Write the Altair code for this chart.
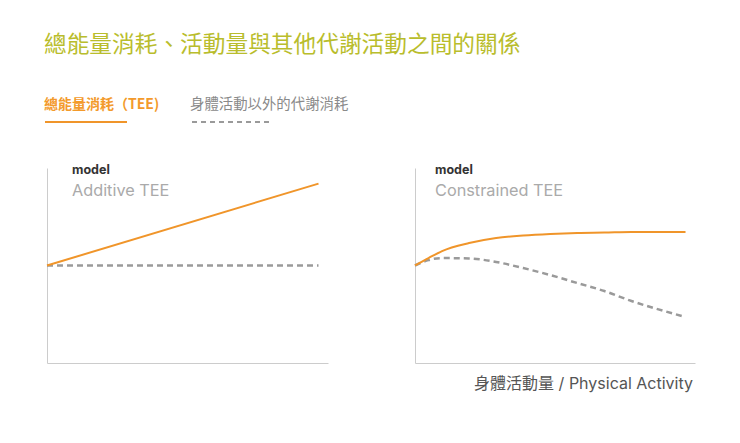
import altair as alt
import pandas as pd

FONT = "Noto Sans CJK TC"
LATIN = "Inter, Noto Sans CJK TC"

# ---- data ----
additive_x = [0, 10]
additive_tee = [50, 92]
additive_other = [50, 50]

constrained_x = [0, 0.5, 1, 2, 3, 4, 5, 6, 7, 8, 9, 10]
constrained_tee = [50, 53.8, 57.4, 61.5, 64.1, 65.4, 66.2, 66.7, 66.9, 67.2, 67.2, 67.2]
constrained_other = [50, 52.8, 53.8, 53.6, 51.8, 48.7, 45.1, 41.0, 36.9, 31.8, 27.5, 23.6]

title_text = "總能量消耗、活動量與其他代謝活動之間的關係"
legend_tee = "總能量消耗（TEE)"
legend_other = "身體活動以外的代謝消耗"
x_title = "身體活動量 / Physical Activity"

ORANGE = "#f0952a"
GREY = "#9a9a9a"

W1, W2, H = 281, 280, 195
xs = alt.Scale(domain=[0, 10.35], nice=False, zero=False)
ys = alt.Scale(domain=[0, 100], nice=False)
ax = alt.Axis(labels=False, ticks=False, grid=False, title=None, domainColor="#cccccc", domainWidth=1)


def panel(xv, tee, other, interp):
    df_tee = pd.DataFrame({"x": xv, "y": tee})
    df_other = pd.DataFrame({"x": xv, "y": other})
    tee_line = alt.Chart(df_tee).mark_line(color=ORANGE, strokeWidth=2, interpolate=interp).encode(
        x=alt.X("x:Q", scale=xs, axis=ax), y=alt.Y("y:Q", scale=ys, axis=ax)
    )
    other_line = alt.Chart(df_other).mark_line(
        color=GREY, strokeWidth=2.5, strokeDash=[6, 4], interpolate=interp
    ).encode(x=alt.X("x:Q", scale=xs, axis=ax), y=alt.Y("y:Q", scale=ys, axis=ax))
    return other_line, tee_line


def txt(text, x, y, size, color, weight="normal", align="left", font=FONT):
    return alt.Chart(pd.DataFrame({"t": [text]})).mark_text(
        align=align, baseline="middle", font=font, fontSize=size, color=color, fontWeight=weight
    ).encode(x=alt.value(x), y=alt.value(y), text="t:N")


def rule(x1, x2, y, color, width, dash=None):
    kw = dict(color=color, strokeWidth=width)
    if dash:
        kw["strokeDash"] = dash
    return alt.Chart(pd.DataFrame({"a": [0]})).mark_rule(**kw).encode(
        x=alt.value(x1), x2=alt.value(x2), y=alt.value(y)
    )


o1, t1 = panel(additive_x, additive_tee, additive_other, "linear")
left = alt.layer(
    o1, t1,
    txt(title_text, -3, -123, 22.7, "#b9bd2c"),
    txt(legend_tee, -3, -63, 14, "#f39a2b", weight="bold"),
    txt(legend_other, 143, -63, 14.4, "#8a8a8a"),
    rule(-2, 80, -46, ORANGE, 2),
    rule(145, 226, -46, GREY, 2, [5, 4]),
    txt("model", 25, 2, 12.5, "#333333", weight="bold", font=LATIN),
    txt("Additive TEE", 25, 23, 16.3, "#aaaaaa", font=LATIN),
).properties(width=W1, height=H)

o2, t2 = panel(constrained_x, constrained_tee, constrained_other, "monotone")
right = alt.layer(
    o2, t2,
    txt("model", 20, 2, 12.5, "#333333", weight="bold", font=LATIN),
    txt("Constrained TEE", 20, 23, 16.3, "#aaaaaa", font=LATIN),
    txt(x_title, 278, 216, 16, "#555555", align="right", font=LATIN),
).properties(width=W2, height=H)

chart = alt.hconcat(left, right, spacing=87, bounds="flush").properties(
    padding={"left": 34, "top": 26, "right": 5, "bottom": 5}
).configure_view(stroke=None)

chart.save("out.html", embed_options={"renderer": "svg", "actions": False})
